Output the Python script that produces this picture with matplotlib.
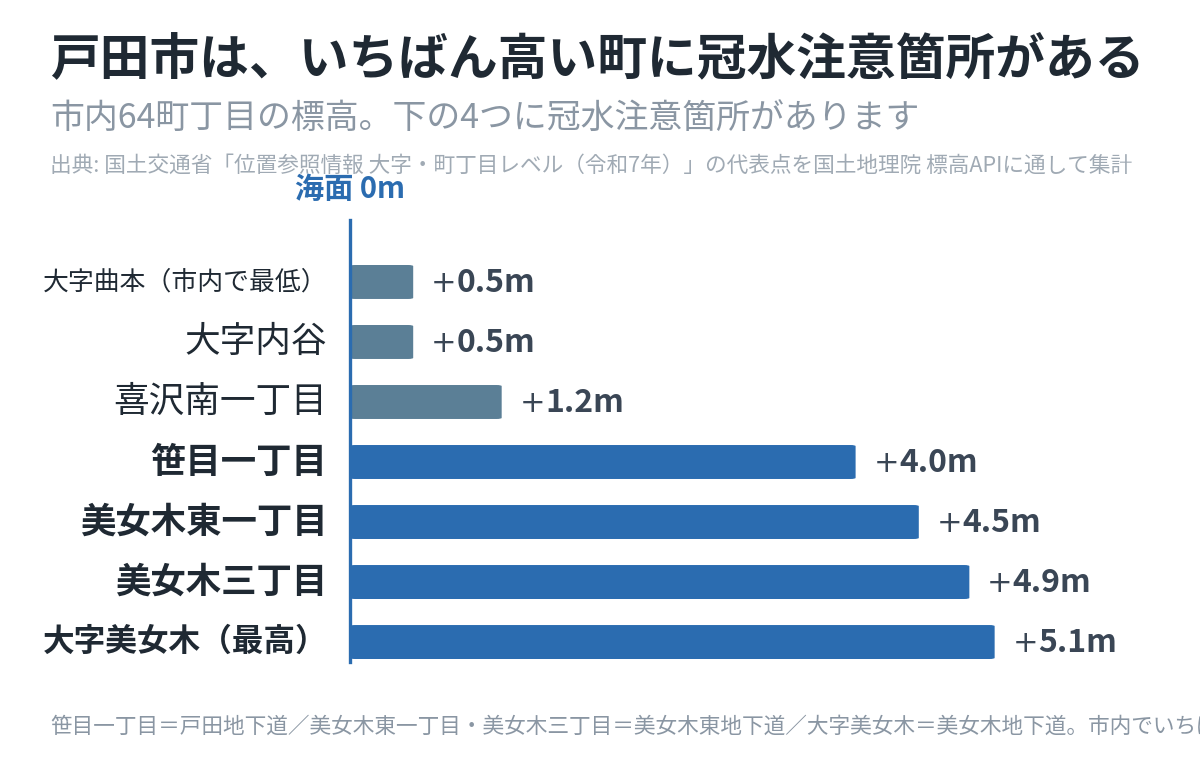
import matplotlib.pyplot as plt
from matplotlib.patches import FancyBboxPatch

plt.rcParams['font.family'] = ['Noto Sans CJK JP', 'DejaVu Sans']

# data
towns = ["大字曲本（市内で最低）", "大字内谷", "喜沢南一丁目", "笹目一丁目",
         "美女木東一丁目", "美女木三丁目", "大字美女木（最高）"]
heights = [0.5, 0.5, 1.2, 4.0, 4.5, 4.9, 5.1]
flooded = [False, False, False, True, True, True, True]
label_sizes = [18.6, 25.7, 25.7, 25.5, 25.5, 25.5, 22.8]

title = "戸田市は、いちばん高い町に冠水注意箇所がある"
subtitle = "市内64町丁目の標高。下の4つに冠水注意箇所があります"
source = "出典: 国土交通省「位置参照情報 大字・町丁目レベル（令和7年）」の代表点を国土地理院 標高APIに通して集計"
footer = "笹目一丁目＝戸田地下道／美女木東一丁目・美女木三丁目＝美女木東地下道／大字美女木＝美女木地下道。市内でいちばん高い町"

blue = "#2b6cb0"
grey_blue = "#5b7f96"
dark = "#1f2933"
W, H = 1200, 768

fig = plt.figure(figsize=(W / 100, H / 100), dpi=100)
ax = fig.add_axes([350 / W, 1 - 662 / H, 850 / W, 442 / H])
ax.set_xlim(0, 850 / 126.4)
ax.set_ylim(len(towns) - 1 + 0.333, -1.033)
ax.axis("off")

for i, (t, v, f) in enumerate(zip(towns, heights, flooded)):
    c = blue if f else grey_blue
    ax.add_patch(FancyBboxPatch((0, i - 0.283), v, 0.566,
                                boxstyle="round,pad=0,rounding_size=0.04",
                                mutation_aspect=1 / 2.1,
                                fc=c, ec="none"))
    ax.text(v + 0.14, i + 0.02, "+", va="center", ha="left",
            fontsize=22, fontweight="normal", color="#3a4655",
            family="DejaVu Sans")
    ax.annotate(f"{v:.1f}m", (v + 0.14, i + 0.02), xytext=(18.5, 0),
                textcoords="offset points", va="center", ha="left",
                fontsize=23, fontweight="bold", color="#3a4655")
    ax.text(-0.18, i, t, va="center", ha="right", fontsize=label_sizes[i],
            fontweight="bold" if f else "normal", color=dark, clip_on=False)

ax.axvline(0, ymin=0, ymax=1, color=blue, lw=2.4, clip_on=False)

fig.text(50 / W, 1 - 60 / H, title, fontsize=35.8, fontweight="bold",
         color=dark, va="center", ha="left")
fig.text(50 / W, 1 - 118 / H, subtitle, fontsize=24.4, color="#8a96a3",
         va="center", ha="left")
fig.text(50 / W, 1 - 166 / H, source, fontsize=15.6, color="#a0aab4",
         va="center", ha="left")
fig.text(350 / W, 1 - 189 / H, "海面 0m", fontsize=21, fontweight="bold",
         color=blue, va="center", ha="center")
fig.text(50 / W, 1 - 727 / H, footer, fontsize=15.6, color="#8a96a3",
         va="center", ha="left")

fig.savefig("out.png", dpi=100, facecolor="white")
